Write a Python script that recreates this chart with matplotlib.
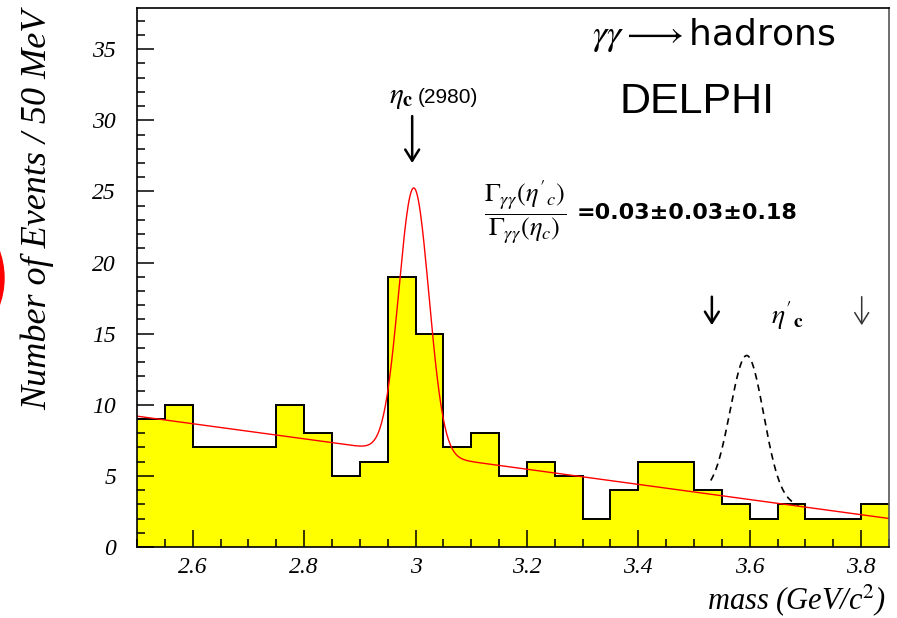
#!/usr/bin/env python3
#-*- coding: utf-8 -*-

import numpy as np
import matplotlib as mpl
mpl.use('Agg')
import matplotlib.pyplot as plt
from matplotlib.ticker import MultipleLocator, FixedLocator, FixedFormatter
from matplotlib.patches import Ellipse

from matplotlib import rcParams
rcParams['mathtext.fontset'] = 'stix'

# gamma gamma -> hadrons, events per 50 MeV bin starting at 2.50 GeV
bin_lo = 2.50
bin_width = 0.05
counts = [9, 10, 7, 7, 7, 10, 8, 5, 6, 19, 15, 7, 8, 5, 6,
          5, 2, 4, 6, 6, 4, 3, 2, 3, 2, 2, 3]

# fit: linear background + eta_c gaussian
bkg_at_lo = 9.2
bkg_slope = -5.33
etac_mass = 2.997
etac_amp = 18.7
etac_sigma = 0.027

# expected eta_c' signal on top of the background (dashed)
etacp_mass = 3.595
etacp_amp = 10.1
etacp_sigma = 0.030
etacp_range = (3.530, 3.688)

xticks = [2.6, 2.8, 3.0, 3.2, 3.4, 3.6, 3.8]
xticklabels = ['2.6', '2.8', '3', '3.2', '3.4', '3.6', '3.8']
yticks = [0, 5, 10, 15, 20, 25, 30, 35]


def background(m):
  return bkg_at_lo + bkg_slope * (m - bin_lo)

def gauss(m, mu, amp, sig):
  return amp * np.exp(-0.5 * ((m - mu) / sig) ** 2)


W, H = 897, 618
fig = plt.figure(figsize=(W / 100, H / 100), dpi=100)
ax = fig.add_axes([137 / W, 1 - 547 / H, (889 - 137) / W, (547 - 8) / H])

edges = bin_lo + bin_width * np.arange(len(counts) + 1)
ax.stairs(counts, edges, fill=True, color='#ffff00', baseline=0, zorder=1)
ax.stairs(counts, edges, baseline=None, color='black', lw=1.4, zorder=2)

m = np.linspace(edges[0], edges[-1], 800)
ax.plot(m, background(m) + gauss(m, etac_mass, etac_amp, etac_sigma),
        color='#ff0000', lw=1.0, zorder=3)

mp = np.linspace(etacp_range[0], etacp_range[1], 200)
ax.plot(mp, background(mp) + gauss(mp, etacp_mass, etacp_amp, etacp_sigma),
        color='black', lw=1.2, ls=(0, (4, 3)), zorder=3)

ax.set_xlim(edges[0], edges[-1])
ax.set_ylim(0, 37.9)

ax.xaxis.set_major_locator(FixedLocator(xticks))
ax.xaxis.set_major_formatter(FixedFormatter(xticklabels))
ax.xaxis.set_minor_locator(MultipleLocator(0.05))
ax.yaxis.set_major_locator(FixedLocator(yticks))
ax.yaxis.set_minor_locator(MultipleLocator(1))

tickfont = dict(family='Liberation Serif', style='italic', size=17)
for lab in ax.get_xticklabels() + ax.get_yticklabels():
  lab.set_fontproperties(mpl.font_manager.FontProperties(**tickfont))
ax.tick_params(which='both', direction='in', top=False, right=False,
               width=1.1, color='black', zorder=5)
ax.tick_params(which='major', length=12)
ax.tick_params(which='minor', length=6)
ax.tick_params(axis='x', pad=7)
ax.tick_params(axis='y', pad=15)
for side in ['left', 'bottom', 'top']:
  ax.spines[side].set_linewidth(1.2)
ax.spines['right'].set_linewidth(1.2)
ax.spines['right'].set_color('#555555')
for s in ax.spines.values():
  s.set_zorder(6)

# arrows marking the eta_c and the eta_c' window
arrow_kw = dict(arrowstyle='->,head_length=0.8,head_width=0.5', lw=1.8, color='black',
                shrinkA=0, shrinkB=0)
ax.annotate('', xy=(2.994, 27.0), xytext=(2.994, 30.3), arrowprops=arrow_kw)
ax.annotate('', xy=(3.532, 15.6), xytext=(3.532, 17.6), arrowprops=arrow_kw)
thin_kw = dict(arrow_kw, lw=1.1, color='#333333')
ax.annotate('', xy=(3.801, 15.6), xytext=(3.801, 17.6), arrowprops=thin_kw)

ax.text(2.996, 31.2, r'$\eta_{\mathbf{c}}$', ha='right', va='baseline', fontsize=21)
ax.text(3.004, 31.2, '(2980)', ha='left', va='baseline', fontsize=15,
        family='Liberation Sans')
ax.text(3.667, 16.3, r"$\eta'_{\mathbf{c}}$", ha='center', va='center', fontsize=20)

ax.text(3.535, 36.0, r'$\gamma\gamma\longrightarrow$hadrons', ha='center', va='center',
        fontsize=26, family='DejaVu Sans')
ax.text(3.505, 31.3, 'DELPHI', ha='center', va='center', fontsize=31,
        family='Liberation Sans')

ax.text(3.197, 23.5, r"$\dfrac{\Gamma_{\gamma\gamma}(\eta'_c)}{\Gamma_{\gamma\gamma}(\eta_c)}$",
        ha='center', va='center', fontsize=19)
ax.text(3.29, 23.5, '=0.03\u00b10.03\u00b10.18', ha='left', va='center',
        fontsize=16, family='DejaVu Sans', weight='bold')

fig.text(38 / W, 1 - 210 / H, 'Number of Events / 50 MeV', rotation=90,
         ha='center', va='center', family='Liberation Serif', style='italic', size=26)
fig.text(886 / W, 1 - 600 / H, r'mass (GeV/c$^{2}$)', ha='right', va='center',
         family='Liberation Serif', style='italic', size=22)

# red marker at the left border
fig.add_artist(Ellipse((-76 / W, 1 - 278 / H), 160 / W, 160 / H,
                       transform=fig.transFigure, color='#ff0000', clip_on=False))

fig.savefig('out.png', dpi=100)
